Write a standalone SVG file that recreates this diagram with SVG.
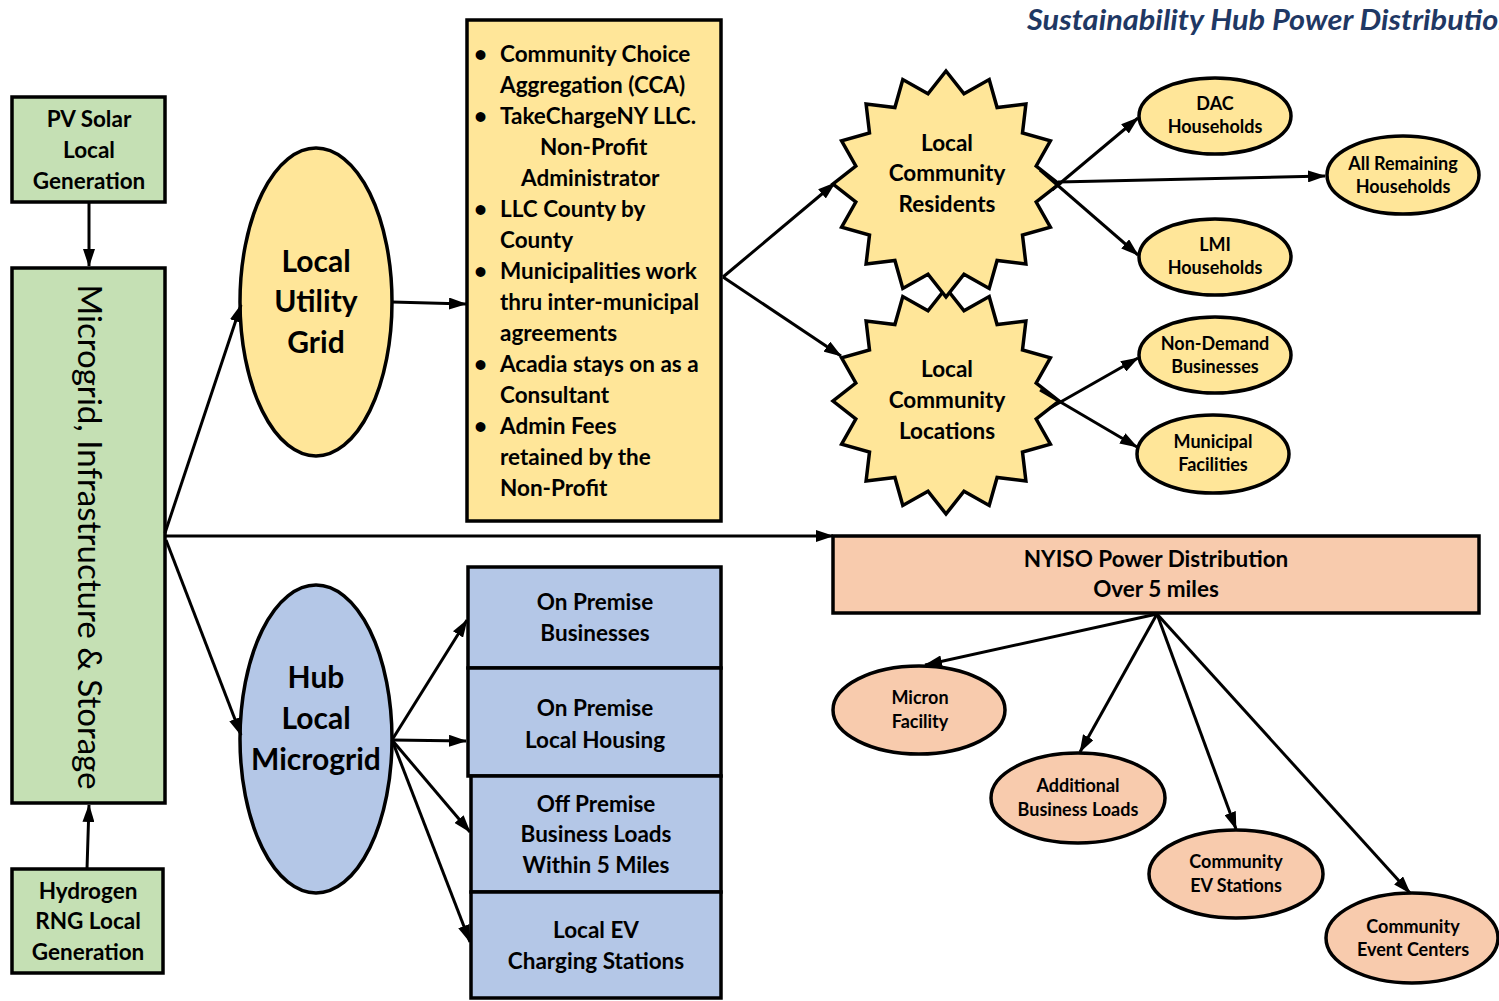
<svg xmlns="http://www.w3.org/2000/svg" width="1499" height="1001" viewBox="0 0 1499 1001">
<style>
.t{font-family:Lato,"Open Sans","Liberation Sans",sans-serif;font-weight:700;fill:#000;text-anchor:middle}
.f22{font-size:22.5px}
.f30{font-size:30px}
.f18{font-size:18px}
.l{text-anchor:start}
.box{stroke:#000;stroke-width:3.5}
.g{fill:#C5E0B4}
.y{fill:#FFE699}
.b{fill:#B4C7E7}
.s{fill:#F8CBAD}
.c line{stroke:#000;stroke-width:3;marker-end:url(#ah)}
</style>
<defs>
<marker id="ah" viewBox="0 0 18 12" refX="17" refY="6" markerWidth="18" markerHeight="12" markerUnits="userSpaceOnUse" orient="auto">
<path d="M0,0 L18,6 L0,12 z" fill="#000"/>
</marker>
<polygon id="star16" points="0,-113 18,-90.2 43.2,-104.4 51.1,-76.5 79.9,-79.9 76.5,-51.1 104.4,-43.2 90.2,-18 113,0 90.2,18 104.4,43.2 76.5,51.1 79.9,79.9 51.1,76.5 43.2,104.4 18,90.2 0,113 -18,90.2 -43.2,104.4 -51.1,76.5 -79.9,79.9 -76.5,51.1 -104.4,43.2 -90.2,18 -113,0 -90.2,-18 -104.4,-43.2 -76.5,-51.1 -79.9,-79.9 -51.1,-76.5 -43.2,-104.4 -18,-90.2"/>
</defs>
<rect width="1499" height="1001" fill="#fff"/>

<text x="1027" y="30" font-family="Lato,'Open Sans',sans-serif" font-weight="700" font-style="italic" font-size="28" fill="#1F3864" textLength="488" lengthAdjust="spacingAndGlyphs">Sustainability Hub Power Distribution</text>

<g id="pv-solar">
<rect class="box g" x="12" y="97" width="153" height="105"/>
<text class="t f22" x="89" y="127">PV Solar</text>
<text class="t f22" x="89" y="158">Local</text>
<text class="t f22" x="89" y="189">Generation</text>
</g>

<g id="microgrid-infra">
<rect class="box g" x="12" y="268" width="153" height="535"/>
<text class="t" font-size="33" transform="translate(89,537) rotate(90)" x="0" y="11" style="font-weight:400" textLength="505" lengthAdjust="spacingAndGlyphs">Microgrid, Infrastructure &amp; Storage</text>
</g>

<g id="hydrogen">
<rect class="box g" x="12" y="869" width="151" height="104"/>
<text class="t f22" x="88" y="899">Hydrogen</text>
<text class="t f22" x="88" y="929">RNG Local</text>
<text class="t f22" x="88" y="960">Generation</text>
</g>

<g id="local-utility-grid">
<ellipse class="box y" cx="316" cy="302" rx="76" ry="154"/>
<text class="t f30" x="316" y="272">Local</text>
<text class="t f30" x="316" y="312">Utility</text>
<text class="t f30" x="316" y="353">Grid</text>
</g>

<g id="hub-local-microgrid">
<ellipse class="box b" cx="316" cy="739" rx="76" ry="154"/>
<text class="t f30" x="316" y="688">Hub</text>
<text class="t f30" x="316" y="729">Local</text>
<text class="t f30" x="316" y="770">Microgrid</text>
</g>

<g id="cca-box">
<rect class="box y" x="467" y="20" width="254" height="501"/>
<g class="t f22 l">
<text x="474" y="62">•</text><text x="500" y="62">Community Choice</text>
<text x="500" y="93">Aggregation (CCA)</text>
<text x="474" y="124">•</text><text x="500" y="124">TakeChargeNY LLC.</text>
<text x="540" y="155">Non-Profit</text>
<text x="521" y="186">Administrator</text>
<text x="474" y="217">•</text><text x="500" y="217">LLC County by</text>
<text x="500" y="248">County</text>
<text x="474" y="279">•</text><text x="500" y="279">Municipalities work</text>
<text x="500" y="310">thru inter-municipal</text>
<text x="500" y="341">agreements</text>
<text x="474" y="372">•</text><text x="500" y="372">Acadia stays on as a</text>
<text x="500" y="403">Consultant</text>
<text x="474" y="434">•</text><text x="500" y="434">Admin Fees</text>
<text x="500" y="465">retained by the</text>
<text x="500" y="496">Non-Profit</text>
</g>
</g>

<g id="local-community-locations">
<use href="#star16" transform="translate(946,401)" class="box y"/>
<text class="t f22" x="947" y="377">Local</text>
<text class="t f22" x="947" y="408">Community</text>
<text class="t f22" x="947" y="439">Locations</text>
</g>

<g id="local-community-residents">
<use href="#star16" transform="translate(946,184)" class="box y"/>
<text class="t f22" x="947" y="151">Local</text>
<text class="t f22" x="947" y="181">Community</text>
<text class="t f22" x="947" y="212">Residents</text>
</g>

<g id="dac-households">
<ellipse class="box y" cx="1215" cy="116" rx="76" ry="38"/>
<text class="t f18" x="1215" y="110">DAC</text>
<text class="t f18" x="1215" y="133">Households</text>
</g>

<g id="all-remaining-households">
<ellipse class="box y" cx="1403" cy="175" rx="76" ry="39"/>
<text class="t f18" x="1403" y="170">All Remaining</text>
<text class="t f18" x="1403" y="193">Households</text>
</g>

<g id="lmi-households">
<ellipse class="box y" cx="1215" cy="257" rx="76" ry="38"/>
<text class="t f18" x="1215" y="251">LMI</text>
<text class="t f18" x="1215" y="274">Households</text>
</g>

<g id="non-demand-businesses">
<ellipse class="box y" cx="1215" cy="355" rx="76" ry="38"/>
<text class="t f18" x="1215" y="350">Non-Demand</text>
<text class="t f18" x="1215" y="373">Businesses</text>
</g>

<g id="municipal-facilities">
<ellipse class="box y" cx="1213" cy="454" rx="76" ry="39"/>
<text class="t f18" x="1213" y="448">Municipal</text>
<text class="t f18" x="1213" y="471">Facilities</text>
</g>

<g id="nyiso">
<rect class="box s" x="833" y="536" width="646" height="77"/>
<text class="t f22" x="1156" y="567">NYISO Power Distribution</text>
<text class="t f22" x="1156" y="597">Over 5 miles</text>
</g>

<g id="micron-facility">
<ellipse class="box s" cx="919" cy="710" rx="86" ry="44"/>
<text class="t f18" x="920" y="704">Micron</text>
<text class="t f18" x="920" y="728">Facility</text>
</g>

<g id="additional-business-loads">
<ellipse class="box s" cx="1078" cy="798" rx="87" ry="45"/>
<text class="t f18" x="1078" y="792">Additional</text>
<text class="t f18" x="1078" y="816">Business Loads</text>
</g>

<g id="community-ev-stations">
<ellipse class="box s" cx="1236" cy="874" rx="87" ry="44"/>
<text class="t f18" x="1236" y="868">Community</text>
<text class="t f18" x="1236" y="892">EV Stations</text>
</g>

<g id="community-event-centers">
<ellipse class="box s" cx="1412" cy="938" rx="86" ry="45"/>
<text class="t f18" x="1413" y="933">Community</text>
<text class="t f18" x="1413" y="956">Event Centers</text>
</g>

<g id="on-premise-businesses">
<rect class="box b" x="468" y="567" width="253" height="101"/>
<text class="t f22" x="595" y="610">On Premise</text>
<text class="t f22" x="595" y="641">Businesses</text>
</g>

<g id="on-premise-housing">
<rect class="box b" x="468" y="668" width="253" height="108"/>
<text class="t f22" x="595" y="716">On Premise</text>
<text class="t f22" x="595" y="748">Local Housing</text>
</g>

<g id="off-premise">
<rect class="box b" x="471" y="776" width="250" height="116"/>
<text class="t f22" x="596" y="812">Off Premise</text>
<text class="t f22" x="596" y="842">Business Loads</text>
<text class="t f22" x="596" y="873">Within 5 Miles</text>
</g>

<g id="local-ev-charging">
<rect class="box b" x="471" y="892" width="250" height="106"/>
<text class="t f22" x="596" y="938">Local EV</text>
<text class="t f22" x="596" y="969">Charging Stations</text>
</g>

<g id="connectors" class="c">
<line x1="89" y1="202" x2="89" y2="266"/>
<line x1="87" y1="869" x2="89" y2="805"/>
<line x1="165" y1="533" x2="241" y2="305"/>
<line x1="166" y1="540" x2="241" y2="735"/>
<line x1="165" y1="536" x2="833" y2="536"/>
<line x1="392" y1="302" x2="466" y2="304"/>
<line x1="723" y1="277" x2="835" y2="183"/>
<line x1="723" y1="277" x2="841" y2="356"/>
<line x1="1052" y1="190" x2="1138" y2="118"/>
<line x1="1058" y1="182" x2="1325" y2="176"/>
<line x1="1040" y1="170" x2="1138" y2="255"/>
<line x1="1050" y1="408" x2="1138" y2="358"/>
<line x1="1040" y1="390" x2="1137" y2="447"/>
<line x1="392" y1="740" x2="467" y2="620"/>
<line x1="392" y1="740" x2="466" y2="741"/>
<line x1="392" y1="740" x2="470" y2="832"/>
<line x1="392" y1="740" x2="470" y2="942"/>
<line x1="1157" y1="614" x2="925" y2="665"/>
<line x1="1157" y1="614" x2="1080" y2="752"/>
<line x1="1157" y1="614" x2="1236" y2="829"/>
<line x1="1157" y1="614" x2="1410" y2="893"/>
</g>
</svg>
